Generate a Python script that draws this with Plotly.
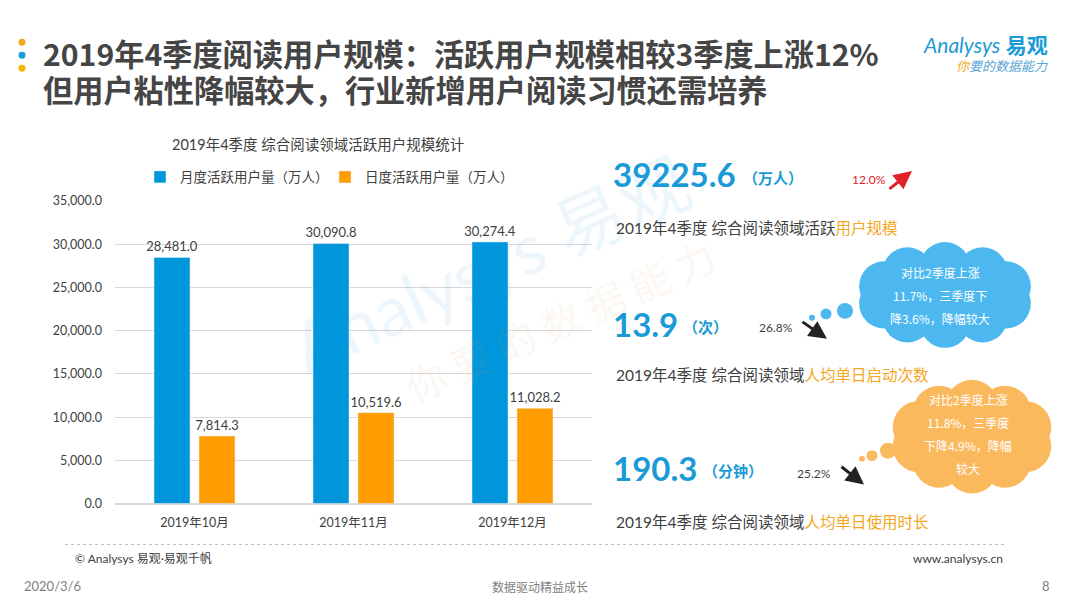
import math
import plotly.graph_objects as go

# data
months = ["2019年10月", "2019年11月", "2019年12月"]
mau = [28481.0, 30090.8, 30274.4]
dau = [7814.3, 10519.6, 11028.2]
series_names = ["月度活跃用户量（万人）", "日度活跃用户量（万人）"]

kpi_values = ["39225.6", "13.9", "190.3"]
kpi_units = ["（万人）", "（次）", "（分钟）"]
kpi_changes = ["12.0%", "26.8%", "25.2%"]
kpi_labels = ["活跃", "", ""]
kpi_highlights = ["用户规模", "人均单日启动次数", "人均单日使用时长"]
cloud_lines = [
    ["对比2季度上涨", "11.7%，三季度下", "降3.6%，降幅较大"],
    ["对比2季度上涨", "11.8%，三季度", "下降4.9%，降幅", "较大"],
]
title_lines = [
    "2019年4季度阅读用户规模：活跃用户规模相较3季度上涨12%",
    "但用户粘性降幅较大，行业新增用户阅读习惯还需培养",
]

W, H = 1080, 608
BLUE = "#0096dc"
ORANGE = "#ff9c00"
TXT = "#404040"
FONT = "Lato, Noto Sans CJK SC"
CJK = "Noto Sans CJK SC"

# the screenshot came out a little squeezed vertically, so positions are
# given in target pixels and corrected here
Y_OFF, Y_SCALE = 5.6, 0.977


def px(x):
    return x / W


def py(y):
    return 1 - ((y - Y_OFF) / Y_SCALE) / H


fig = go.Figure()
for vals, name, col in [(mau, series_names[0], BLUE), (dau, series_names[1], ORANGE)]:
    fig.add_trace(go.Bar(x=months, y=vals, name=name, marker_color=col,
                         texttemplate="%{y:,.1f}", textposition="outside", constraintext="none",
                         textfont=dict(size=13, color=TXT), cliponaxis=False))

shapes = []
annotations = []


def text(x, y, s, size, color=TXT, family=FONT, xa="left", ya="middle", **kw):
    annotations.append(dict(x=px(x), y=py(y), xref="paper", yref="paper", xanchor=xa, yanchor=ya,
                            text=s, showarrow=False, font=dict(family=family, size=size, color=color), **kw))


def circle(cx, cy, r, color):
    shapes.append(dict(type="circle", xref="paper", yref="paper",
                       x0=px(cx - r), x1=px(cx + r), y0=py(cy + r), y1=py(cy - r),
                       fillcolor=color, line=dict(width=0), layer="above"))


def cloud(cx, cy, a, b, r, n, color, bubbles):
    for i in range(n):
        t = 2 * math.pi * (i + 0.5) / n
        circle(cx + a * math.cos(t), cy + b * math.sin(t), r, color)
    shapes.append(dict(type="circle", xref="paper", yref="paper",
                       x0=px(cx - a - 6), x1=px(cx + a + 6), y0=py(cy + b + 6), y1=py(cy - b - 6),
                       fillcolor=color, line=dict(width=0), layer="above"))
    for bx, by, br in bubbles:
        circle(bx, by, br, color)


# title dots
circle(22, 40, 3.5, "#f5a623")
circle(22, 53, 3.5, "#1a9ad6")
circle(22, 66, 3.5, "#f5b800")

text(41, 51, "<b>%s</b>" % title_lines[0], 30.2, color="#454545", family=CJK)
text(41, 87, "<b>%s</b>" % title_lines[1], 30.2, color="#454545", family=CJK)

# logo
text(1050, 42, "<i>Analysys</i> <b>易观</b>", 21, color="#1a9ad6", xa="right")
text(1050, 63, "<i><span style='color:#f5a623'>你</span>要的数据能力</i>", 13, color="#5aa6d6",
     family=CJK, xa="right")

# watermark
text(490, 262, "Analysys 易观", 70, color="#1a9ad6", xa="center", textangle=-24, opacity=0.08)
text(560, 318, "你 要 的 数 据 能 力", 40, color="#e0a050", family=CJK, xa="center",
     textangle=-24, opacity=0.07)

# chart title
text(318, 142, "2019年4季度 综合阅读领域活跃用户规模统计", 14.5, xa="center")

# right side KPI blocks
kpi_y = [172, 322, 466]
unit_x = [741, 681, 701]
label_y = [226, 373, 520]
change_x = [888, 795, 833]
change_y = [177, 326, 472]
for i in range(3):
    text(611, kpi_y[i], "<b>%s</b>" % kpi_values[i], 33, color="#1a9ad6")
    text(unit_x[i], kpi_y[i] + 3, "<b>%s</b>" % kpi_units[i], 15, color="#1a9ad6", family=CJK)
    text(614, label_y[i], "2019年4季度 综合阅读领域%s<span style='color:#f5a623'>%s</span>"
         % (kpi_labels[i], kpi_highlights[i]), 15.5)
    text(change_x[i], change_y[i], kpi_changes[i], 12, color="#e0202a" if i == 0 else TXT, xa="right")

# arrows
for hx, hy, ax, ay, col in [(912, 169, -24, 19, "#e0202a"), (827, 337, -26, -18, "#222222"),
                            (864, 483, -24, -19, "#222222")]:
    annotations.append(dict(x=px(hx), y=py(hy), xref="paper", yref="paper", ax=ax, ay=ay, text="",
                            showarrow=True, arrowhead=2, arrowsize=1.2, arrowwidth=3, arrowcolor=col))

# clouds
cloud(945, 293, 64, 28, 25, 10, "#4db8f0", [(812, 316, 3), (826, 312, 5.5), (845, 309, 8)])
cloud(972, 435, 56, 31, 26, 10, "#fbb95e", [(862, 457, 3), (872, 454, 5.5), (888, 449, 8)])
for k, line in enumerate(cloud_lines[0]):
    text(940, 271 + 23 * k, line, 12, color="white", family=CJK, xa="center")
for k, line in enumerate(cloud_lines[1]):
    text(968, 398 + 23 * k, line, 12, color="white", family=CJK, xa="center")

# footer
shapes.append(dict(type="line", xref="paper", yref="paper", x0=px(65), x1=px(1005), y0=py(543), y1=py(543),
                   line=dict(color="#bfbfbf", width=1, dash="dot")))
text(73, 557, "© Analysys 易观·易观千帆", 12)
text(1005, 557, "www.analysys.cn", 12, xa="right")
text(22, 585, "2020/3/6", 13, color="#7f7f7f")
text(540, 585, "数据驱动精益成长", 12, color="#7f7f7f", family=CJK, xa="center")
text(1052, 585, "8", 13, color="#7f7f7f", xa="right")

fig.update_layout(
    width=W, height=H,
    margin=dict(l=0, r=0, t=0, b=0),
    paper_bgcolor="white", plot_bgcolor="white",
    font=dict(family=FONT, color=TXT),
    barmode="group", bargap=0.434, bargroupgap=0.2,
    showlegend=True,
    legend=dict(orientation="h", x=px(140), y=py(175), xanchor="left", yanchor="middle",
                font=dict(size=13.5, color=TXT), entrywidth=140, entrywidthmode="pixels",
                itemwidth=30, bgcolor="rgba(0,0,0,0)"),
    xaxis=dict(domain=[px(115), px(592)], showgrid=False, showline=False, ticks="",
               tickfont=dict(size=12.5, color=TXT), ticklabelstandoff=10, fixedrange=True),
    yaxis=dict(domain=[py(502), py(199)], range=[0, 35000], dtick=5000, tickformat=",.1f",
               gridcolor="#d9d9d9", zeroline=True, zerolinecolor="#d9d9d9", showline=False,
               tickfont=dict(size=12.5, color=TXT), ticklabelstandoff=12, fixedrange=True),
    shapes=shapes,
    annotations=annotations,
)

# pin the figure to the top-left corner of the page so nothing shifts it
post = ("document.documentElement.style.overflow='hidden';"
        "document.body.style.margin='0';document.body.style.overflow='hidden';"
        "var gd=document.getElementById('{plot_id}');gd.style.position='fixed';"
        "gd.style.left='0px';gd.style.top='0px';")
fig.write_html("out.html", config={"displayModeBar": False}, post_script=post)
